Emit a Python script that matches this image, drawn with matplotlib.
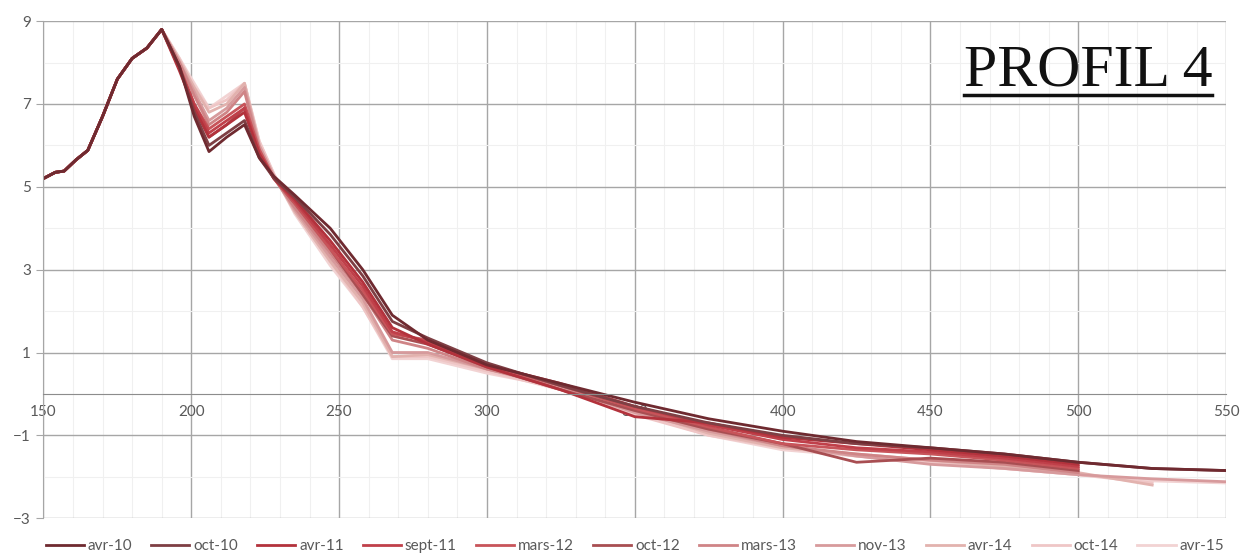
"""Profil 4 - superposed bed profiles, 2010-2015."""

import matplotlib
matplotlib.use("Agg")
import matplotlib.pyplot as plt
from matplotlib.lines import Line2D
import numpy as np

# distances (m) shared by every survey
x_head = [150, 154, 157, 161, 165, 170, 175, 180, 185, 190]
x_tail = [196, 201, 206, 212, 218, 223, 228, 235, 247, 258, 268, 280,
          300, 325, 350, 375, 400, 425, 450, 475, 500, 525, 550]

# common upstream part (all surveys coincide)
y_head = [5.2, 5.35, 5.38, 5.65, 5.88, 6.7, 7.6, 8.1, 8.35, 8.8]

nan = np.nan
labels = ["avr-10", "oct-10", "avr-11", "sept-11", "mars-12", "oct-12",
          "mars-13", "nov-13", "avr-14", "oct-14", "avr-15"]

avr10 = [7.9, 6.7, 5.85, 6.2, 6.5, 5.7, 5.25, 4.8, 4.0, 3.0, 1.9, 1.3,
         0.7, 0.25, -0.2, -0.6, -0.9, -1.15, -1.3, -1.45, -1.65, -1.8, -1.85]
oct10 = [7.9, 6.8, 6.0, 6.3, 6.6, 5.7, 5.2, 4.75, 3.85, 2.85, 1.75, 1.35,
         0.75, 0.2, -0.3, -0.7, -1.0, -1.2, -1.3, -1.45, -1.65, -1.8, -1.85]
avr11 = [7.8, 6.9, 6.2, 6.5, 6.8, 5.8, 5.2, 4.7, 3.7, 2.7, 1.6, 1.2,
         0.65, 0.1, -0.55, -0.7, -1.05, -1.2, -1.35, -1.5, -1.7, nan, nan]
sept11 = [7.85, 7.0, 6.3, 6.6, 6.9, 5.8, 5.2, 4.65, 3.6, 2.6, 1.5, 1.25,
          0.7, 0.25, -0.3, -0.75, -1.1, -1.3, -1.4, -1.55, -1.75, nan, nan]
mars12 = [7.9, 7.0, 6.4, 6.7, 7.0, 5.9, 5.2, 4.6, 3.5, 2.5, 1.45, 1.3,
          0.7, 0.2, -0.35, -0.8, -1.2, -1.35, -1.45, -1.6, -1.8, nan, nan]
oct12 = [7.9, 6.9, 6.2, 6.5, 6.9, 5.8, 5.2, 4.6, 3.5, 2.4, 1.4, 1.2,
         0.65, 0.1, -0.4, -0.85, -1.2, -1.65, -1.55, -1.65, -1.85, nan, nan]
mars13 = [8.0, 7.2, 6.5, 6.8, 7.3, 5.9, 5.2, 4.5, 3.4, 2.4, 1.3, 1.1,
          0.6, 0.2, -0.4, -0.85, -1.25, -1.45, -1.6, -1.7, -1.9, nan, nan]
nov13 = [8.0, 7.3, 6.6, 6.9, 7.4, 6.0, 5.25, 4.45, 3.3, 2.3, 1.0, 1.0,
         0.6, 0.15, -0.45, -0.9, -1.25, -1.5, -1.7, -1.8, -1.95, -2.05, -2.12]
avr14 = [8.05, 7.4, 6.8, 7.0, 7.5, 6.0, 5.25, 4.4, 3.2, 2.2, 0.9, 0.95,
         0.6, 0.2, -0.4, -0.95, -1.3, -1.45, -1.6, -1.75, -1.9, -2.2, nan]
oct14 = [8.1, 7.4, 6.9, 7.1, 7.5, 6.1, 5.3, 4.4, 3.2, 2.1, 0.9, 0.9,
         0.55, 0.1, -0.5, -1.0, -1.3, -1.5, -1.65, -1.8, -1.95, -2.15, nan]
avr15 = [8.1, 7.5, 6.9, 7.2, 7.5, 6.1, 5.3, 4.35, 3.1, 2.1, 0.85, 0.85,
         0.5, 0.15, -0.45, -1.0, -1.35, -1.5, -1.65, -1.8, -1.95, -2.1, -2.15]

series = [avr10, oct10, avr11, sept11, mars12, oct12,
          mars13, nov13, avr14, oct14, avr15]
colors = ["#6f2a30", "#7e3f44", "#b3323c", "#c0404a", "#c8545a", "#a84e52",
          "#cf8486", "#d79a9c", "#e2b2ae", "#efc6c6", "#f2d3d3"]

plt.rcParams["font.family"] = ["Lato", "DejaVu Sans"]

fig = plt.figure(figsize=(12.41, 5.56), dpi=100)
ax = fig.add_axes([0.035, 0.068, 0.953, 0.894])

x_all = np.array(x_head + x_tail, dtype=float)
# draw lightest first so the dark surveys stay on top
handles = {}
for lab, ys, col in reversed(list(zip(labels, series, colors))):
    y_all = np.array(y_head + ys, dtype=float)
    handles[lab], = ax.plot(x_all, y_all, color=col, lw=2.0, label=lab,
                            solid_joinstyle="round")

ax.set_xlim(150, 550)
ax.set_ylim(-3, 9)
ax.set_xticks(np.arange(150, 551, 50))
ax.set_yticks([-3, -1, 1, 3, 5, 7, 9])
ax.set_xticks(np.arange(150, 551, 10), minor=True)
ax.set_yticks(np.arange(-2, 9, 2), minor=True)

ax.grid(which="major", color="#a6a6a6", lw=1.0)
ax.grid(which="minor", color="#f0f0f0", lw=0.8)
ax.set_axisbelow(True)

for s in ["top", "right"]:
    ax.spines[s].set_visible(False)
ax.spines["bottom"].set_position(("data", 0))
ax.spines["bottom"].set_color("#8c8c8c")
ax.spines["left"].set_color("#a6a6a6")
ax.tick_params(axis="x", which="both", length=0, pad=8,
               labelsize=11, labelcolor="#595959")
ax.tick_params(axis="y", which="major", length=5, color="#a6a6a6",
               labelsize=11, labelcolor="#595959", pad=4)
ax.tick_params(axis="y", which="minor", length=0)

# title in the upper right corner, underlined
title = fig.text(1212 / 1241, 1 - 86 / 556, "PROFIL 4", ha="right",
                 va="baseline", fontsize=43, family="Liberation Serif",
                 color="#111111")
fig.canvas.draw()
bb = title.get_window_extent()
fig.add_artist(Line2D([bb.x0 / fig.bbox.width, bb.x1 / fig.bbox.width],
                      [1 - 95 / 556, 1 - 95 / 556], color="#111111", lw=2.5))

ax.legend([handles[l] for l in labels], labels,
          loc="upper center", bbox_to_anchor=(0.5, -0.015), ncol=11,
          frameon=False, fontsize=11, handlelength=2.5, handletextpad=0.25,
          columnspacing=1.25, labelcolor="#595959")

fig.savefig("out.png", dpi=100)
